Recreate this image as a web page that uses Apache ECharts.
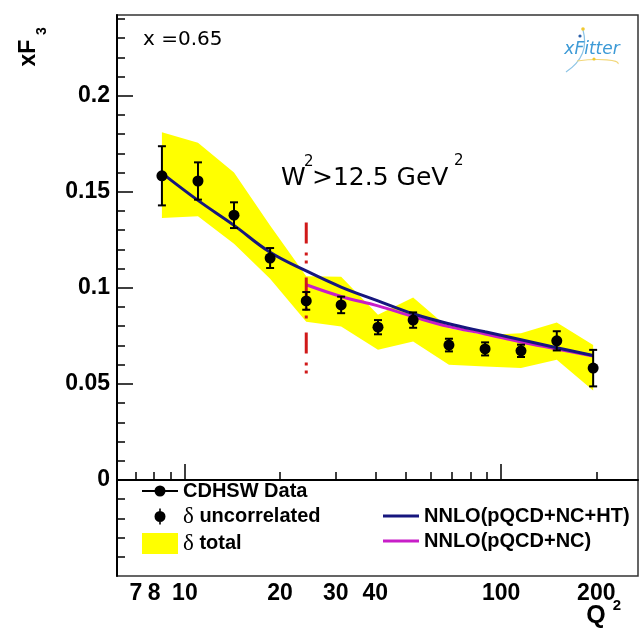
<!DOCTYPE html>
<html>
<head>
<meta charset="utf-8">
<script src="https://cdn.jsdelivr.net/npm/echarts@6/dist/echarts.min.js"></script>
<style>
  html, body { margin: 0; padding: 0; background: #fff; }
  #main { width: 641px; height: 635px; }
</style>
</head>
<body>
<div id="main"></div>
<script>
// CDHSW xF3 at x = 0.65
var q2 = [8.46, 11.0, 14.3, 18.6, 24.2, 31.2, 40.8, 52.7, 68.4, 89.0, 115.6, 150, 195.5]
var xf3 = [0.1583, 0.1556, 0.1378, 0.1155, 0.0932, 0.0911, 0.0795, 0.0832, 0.0702, 0.0682, 0.0672, 0.0724, 0.0582]
var errUnc = [0.0154, 0.0097, 0.0067, 0.0052, 0.0046, 0.0043, 0.0037, 0.004, 0.0033, 0.0034, 0.0032, 0.005, 0.0095]
var bandHigh = [0.181, 0.1755, 0.160, 0.1325, 0.106, 0.1057, 0.086, 0.095, 0.079, 0.0755, 0.0764, 0.0819, 0.0703]
var bandLow = [0.1363, 0.1372, 0.123, 0.1047, 0.0824, 0.0799, 0.0677, 0.072, 0.0599, 0.059, 0.0582, 0.0625, 0.0465]
var nnloHT = [0.1597, 0.1455, 0.1325, 0.1185, 0.1088, 0.1004, 0.0932, 0.0865, 0.0813, 0.0771, 0.073, 0.0688, 0.0648]
var nnloNC = [null, null, null, null, 0.1016, 0.0955, 0.0906, 0.085, 0.0798, 0.076, 0.0718, 0.0682, 0.0645]
var cutQ2 = 24.2
var cutRange = [0.134, 0.0547]

var xLabelValues = [7, 8, 10, 20, 30, 40, 100, 200]
var xMajorTicks = [10, 100]
var xMinorTicks = [7, 8, 9, 20, 30, 40, 50, 60, 70, 80, 90, 200]
var yLabelValues = [0, 0.05, 0.1, 0.15, 0.2]
var yMinorTicks = [-0.04, -0.03, -0.02, -0.01, 0.01, 0.02, 0.03, 0.04, 0.06, 0.07, 0.08, 0.09,
  0.11, 0.12, 0.13, 0.14, 0.16, 0.17, 0.18, 0.19, 0.21, 0.22, 0.23, 0.24]

var boldFont = "'Liberation Sans', Arial, sans-serif"
var plainFont = "'DejaVu Sans', sans-serif"

function pairs(ys) {
  var out = []
  for (var i = 0; i < q2.length; i++) {
    if (ys[i] != null) out.push([q2[i], ys[i]])
  }
  return out
}

var chart = echarts.init(document.getElementById('main'))

var xCommon = {
  type: 'log',
  min: 6.1,
  max: 271,
  position: 'bottom',
  splitLine: { show: false },
  minorTick: { show: false },
}
var yCommon = {
  type: 'value',
  min: -0.05,
  max: 0.242,
  position: 'left',
  splitLine: { show: false },
}

var option = {
  animation: false,
  backgroundColor: '#fff',
  grid: {
    left: 117,
    right: 3,
    top: 15,
    bottom: 59,
    show: true,
    borderColor: '#333',
    borderWidth: 1.5,
  },
  legend: [
    {
      left: 137,
      top: 476,
      orient: 'vertical',
      itemWidth: 36,
      itemHeight: 21,
      itemGap: 4,
      selectedMode: false,
      formatter: function (name) {
        return name.replace('δ', '{g|δ}')
      },
      textStyle: {
        fontFamily: boldFont,
        fontWeight: 'bold',
        fontSize: 20,
        color: '#000',
        rich: {
          g: { fontFamily: "'Liberation Serif', serif", fontWeight: 'normal', fontSize: 23, color: '#000' },
        },
      },
      data: [
        {
          name: 'CDHSW Data',
          icon: 'path://M0,0M36,20M0,9h36v2h-36zM12.5,10a5.5,5.5 0 1,1 11,0a5.5,5.5 0 1,1 -11,0z',
          itemStyle: { color: '#000', borderWidth: 0, opacity: 1 },
        },
        {
          name: 'δ uncorrelated',
          icon: 'path://M0,0M36,20M17.2,2h1.6v16h-1.6zM12.5,10a5.5,5.5 0 1,1 11,0a5.5,5.5 0 1,1 -11,0z',
          itemStyle: { color: '#000', borderWidth: 0, opacity: 1 },
        },
        {
          name: 'δ total',
          icon: 'rect',
          itemStyle: { color: '#ffff00', borderWidth: 0 },
        },
      ],
    },
    {
      left: 378,
      top: 501,
      orient: 'vertical',
      itemWidth: 36,
      itemHeight: 21,
      itemGap: 5,
      selectedMode: false,
      textStyle: { fontFamily: boldFont, fontWeight: 'bold', fontSize: 20, color: '#000' },
      data: [
        {
          name: 'NNLO(pQCD+NC+HT)',
          icon: 'path://M0,0h36v3h-36z',
          itemStyle: { color: '#16167e', borderWidth: 0 },
        },
        {
          name: 'NNLO(pQCD+NC)',
          icon: 'path://M0,0h36v3h-36z',
          itemStyle: { color: '#c81ec8', borderWidth: 0 },
        },
      ],
    },
  ],
  xAxis: [
    Object.assign({}, xCommon, {
      axisLine: { show: true, lineStyle: { color: '#000', width: 2 } },
      axisTick: { show: true, inside: true, length: 16, customValues: xMajorTicks, lineStyle: { color: '#000', width: 1.5 } },
      axisLabel: {
        customValues: xLabelValues,
        margin: 6,
        color: '#000',
        fontFamily: boldFont,
        fontWeight: 'bold',
        fontSize: 23,
      },
    }),
    Object.assign({}, xCommon, {
      axisLine: { show: false },
      axisTick: { show: true, inside: true, length: 8, customValues: xMinorTicks, lineStyle: { color: '#000', width: 1.5 } },
      axisLabel: { show: false },
    }),
  ],
  yAxis: [
    Object.assign({}, yCommon, {
      axisLine: { show: true, lineStyle: { color: '#000', width: 2 } },
      axisTick: { show: true, inside: true, length: 16, customValues: yLabelValues, lineStyle: { color: '#000', width: 1.5 } },
      axisLabel: {
        customValues: yLabelValues,
        margin: 7,
        color: '#000',
        fontFamily: boldFont,
        fontWeight: 'bold',
        fontSize: 23,
      },
    }),
    Object.assign({}, yCommon, {
      axisLine: { show: false },
      axisTick: { show: true, inside: true, length: 8, customValues: yMinorTicks, lineStyle: { color: '#000', width: 1.5 } },
      axisLabel: { show: false },
    }),
  ],
  series: [
    {
      // total uncertainty band: one polygon through the upper edge and back along the lower edge
      name: 'δ total',
      type: 'custom',
      data: q2.map(function (q, i) { return [q, bandLow[i], bandHigh[i]] }),
      encode: { x: 0, y: [1, 2] },
      itemStyle: { color: '#ffff00' },
      silent: true,
      renderItem: function (params, api) {
        if (params.dataIndex !== 0) return null
        var pts = []
        for (var i = 0; i < q2.length; i++) pts.push(api.coord([q2[i], bandHigh[i]]))
        for (var j = q2.length - 1; j >= 0; j--) pts.push(api.coord([q2[j], bandLow[j]]))
        return { type: 'polygon', shape: { points: pts }, style: { fill: '#ffff00' } }
      },
      z: 1,
    },
    {
      name: 'NNLO(pQCD+NC+HT)',
      type: 'line',
      data: pairs(nnloHT),
      smooth: 0.4,
      symbol: 'none',
      color: '#16167e',
      lineStyle: { color: '#16167e', width: 3 },
      z: 3,
    },
    {
      name: 'NNLO(pQCD+NC)',
      type: 'line',
      data: pairs(nnloNC),
      smooth: 0.4,
      symbol: 'none',
      color: '#c81ec8',
      lineStyle: { color: '#c81ec8', width: 3 },
      z: 2,
    },
    {
      name: 'cut',
      type: 'line',
      data: [[cutQ2, cutRange[0]], [cutQ2, cutRange[1]]],
      symbol: 'none',
      lineStyle: { color: '#d01818', width: 3, type: [21, 9, 3, 5, 3, 14], cap: 'butt' },
      silent: true,
      z: 4,
    },
    {
      name: 'δ uncorrelated',
      type: 'custom',
      data: q2.map(function (q, i) { return [q, xf3[i] - errUnc[i], xf3[i] + errUnc[i]] }),
      encode: { x: 0, y: [1, 2] },
      itemStyle: { color: '#000' },
      renderItem: function (params, api) {
        var lo = api.coord([api.value(0), api.value(1)])
        var hi = api.coord([api.value(0), api.value(2)])
        var cap = 4
        var st = { stroke: '#000', lineWidth: 2 }
        return {
          type: 'group',
          children: [
            { type: 'line', shape: { x1: lo[0], y1: lo[1], x2: hi[0], y2: hi[1] }, style: st },
            { type: 'line', shape: { x1: lo[0] - cap, y1: lo[1], x2: lo[0] + cap, y2: lo[1] }, style: st },
            { type: 'line', shape: { x1: hi[0] - cap, y1: hi[1], x2: hi[0] + cap, y2: hi[1] }, style: st },
          ],
        }
      },
      z: 5,
    },
    {
      name: 'CDHSW Data',
      type: 'scatter',
      data: pairs(xf3),
      symbol: 'circle',
      symbolSize: 11,
      itemStyle: { color: '#000', opacity: 1 },
      z: 6,
    },
  ],
  graphic: [
    {
      type: 'text',
      x: 143,
      y: 40,
      z: 100,
      style: { text: 'x =0.65', font: '20px ' + plainFont, fill: '#000', verticalAlign: 'middle' },
    },
    { type: 'text', x: 281, y: 178, z: 100, style: { text: 'W', font: '25px ' + plainFont, fill: '#000', verticalAlign: 'middle' } },
    { type: 'text', x: 304, y: 162, z: 100, style: { text: '2', font: '15px ' + plainFont, fill: '#000', verticalAlign: 'middle' } },
    { type: 'text', x: 312, y: 178, z: 100, style: { text: '>12.5 GeV', font: '25px ' + plainFont, fill: '#000', verticalAlign: 'middle' } },
    { type: 'text', x: 454, y: 161, z: 100, style: { text: '2', font: '15px ' + plainFont, fill: '#000', verticalAlign: 'middle' } },
    {
      type: 'text',
      x: 29,
      y: 53,
      rotation: Math.PI / 2,
      style: { text: 'xF', font: 'bold 23px ' + boldFont, fill: '#000', align: 'center', verticalAlign: 'middle' },
    },
    {
      type: 'text',
      x: 42,
      y: 31,
      rotation: Math.PI / 2,
      style: { text: '3', font: 'bold 14px ' + boldFont, fill: '#000', align: 'center', verticalAlign: 'middle' },
    },
    {
      type: 'text',
      x: 596,
      y: 616,
      style: { text: 'Q', font: 'bold 25px ' + boldFont, fill: '#000', align: 'center', verticalAlign: 'middle' },
    },
    {
      type: 'text',
      x: 617,
      y: 606,
      style: { text: '2', font: 'bold 15px ' + boldFont, fill: '#000', align: 'center', verticalAlign: 'middle' },
    },
    // xFitter logo
    {
      type: 'bezierCurve',
      shape: { x1: 583, y1: 30, cpx1: 590, cpy1: 55, cpx2: 572, cpy2: 68, x2: 566, y2: 72 },
      style: { stroke: '#8cc4e6', lineWidth: 1.2, fill: null },
    },
    {
      type: 'bezierCurve',
      shape: { x1: 577, y1: 61, cpx1: 600, cpy1: 58, cpx2: 620, cpy2: 60, x2: 618, y2: 64 },
      style: { stroke: '#f2d77a', lineWidth: 1.2, fill: null },
    },
    { type: 'circle', shape: { cx: 583, cy: 29, r: 1.8 }, style: { fill: '#f0c830' } },
    { type: 'circle', shape: { cx: 580, cy: 36, r: 1.6 }, style: { fill: '#2a5ea8' } },
    { type: 'circle', shape: { cx: 594, cy: 59, r: 1.6 }, style: { fill: '#f0c830' } },
    {
      type: 'text',
      x: 592,
      y: 50,
      style: { text: 'xFitter', font: 'italic 17px ' + plainFont, fill: '#3d9ad6', align: 'center', verticalAlign: 'middle' },
    },
  ],
}

chart.setOption(option)
</script>
</body>
</html>
